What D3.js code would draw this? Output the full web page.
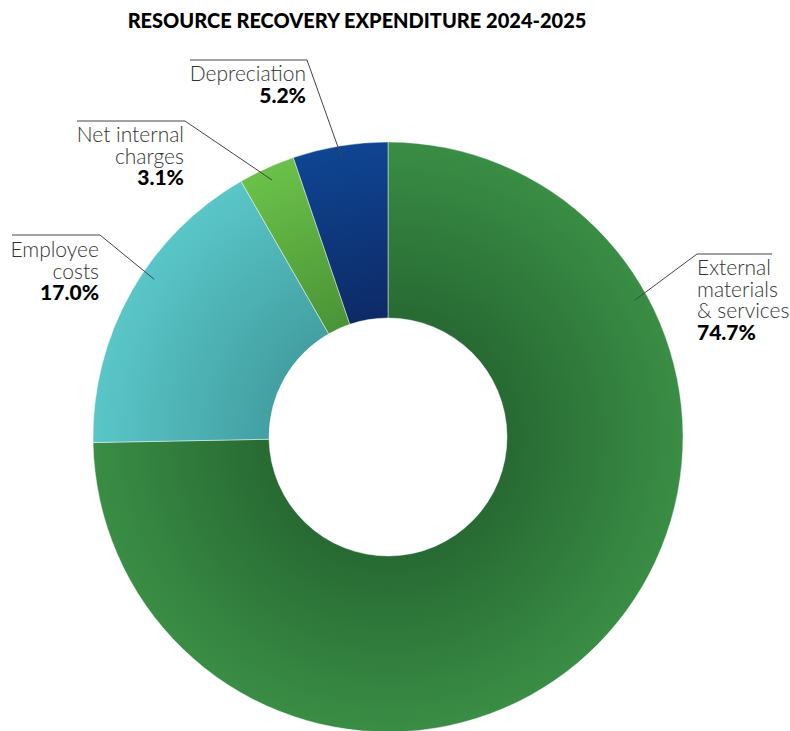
<!DOCTYPE html>
<html>
<head>
<meta charset="utf-8">
<script src="https://cdn.jsdelivr.net/npm/d3@7"></script>
<style>
  html, body { margin: 0; padding: 0; background: #fff; }
  svg { display: block; }
  text { font-family: Lato, "Open Sans", sans-serif; }
</style>
</head>
<body>
<svg id="chart" width="790" height="731"></svg>
<script>
// Expenditure shares, in drawing order (clockwise from 12 o'clock)
const categories = ["External materials & services", "Employee costs", "Net internal charges", "Depreciation"];
const shares = [74.7, 17.0, 3.1, 5.2];
const labelLines = [
  ["External", "materials", "& services"],
  ["Employee", "costs"],
  ["Net internal", "charges"],
  ["Depreciation"]
];

// Slice colours: [inner edge, outer edge]
const palette = [
  ["#276a33", "#3a8d45"],
  ["#43a0a2", "#5ac6c8"],
  ["#4a9436", "#6bc149"],
  ["#0d2a66", "#0f4592"]
];

// Callout layout: anchor angle on the ring (degrees, null = slice middle),
// elbow point, label side and the far end of the rule above the text
const callouts = [
  { angle: 61, elbow: [697, 254], ruleEnd: 772, side: "left", y0: 275 },
  { angle: 304, elbow: [100, 235], ruleEnd: 12, side: "right", y0: 257 },
  { angle: null, elbow: [185, 121], ruleEnd: 77, side: "right", y0: 142 },
  { angle: null, elbow: [307, 60], ruleEnd: 190, side: "right", y0: 81 }
];

const svg = d3.select("#chart");
const cx = 388, cy = 437;
const rOuter = 295, rInner = 119, rAnchor = 282;
const lineH = 21.7;

svg.append("text")
  .attr("x", 357).attr("y", 28)
  .attr("text-anchor", "middle")
  .style("font-weight", 900)
  .style("font-size", "20px")
  .attr("fill", "#000")
  .text("RESOURCE RECOVERY EXPENDITURE 2024-2025");

// Radial shading per slice, darker toward the hole (coordinates relative to the ring centre)
const defs = svg.append("defs");
palette.forEach((c, i) => {
  const gr = defs.append("radialGradient")
    .attr("id", "grad" + i)
    .attr("gradientUnits", "userSpaceOnUse")
    .attr("cx", 0).attr("cy", 0).attr("r", rOuter);
  gr.append("stop").attr("offset", rInner / rOuter).attr("stop-color", c[0]);
  gr.append("stop").attr("offset", 1).attr("stop-color", c[1]);
});

const pie = d3.pie().sort(null).value(d => d);
const arcs = pie(shares);
const arc = d3.arc().innerRadius(rInner).outerRadius(rOuter);

const g = svg.append("g").attr("transform", `translate(${cx},${cy})`);
g.selectAll("path.slice")
  .data(arcs)
  .join("path")
  .attr("class", "slice")
  .attr("d", arc)
  .attr("fill", (d, i) => `url(#grad${i})`)
  .attr("stroke", "rgba(255,255,255,0.45)")
  .attr("stroke-width", 1);

// Callouts
arcs.forEach((a, i) => {
  const co = callouts[i];
  const ang = co.angle != null ? co.angle * Math.PI / 180 : (a.startAngle + a.endAngle) / 2;
  const ax = cx + rAnchor * Math.sin(ang);
  const ay = cy - rAnchor * Math.cos(ang);
  svg.append("path")
    .attr("d", `M${ax},${ay}L${co.elbow[0]},${co.elbow[1]}L${co.ruleEnd},${co.elbow[1]}`)
    .attr("fill", "none")
    .attr("stroke", "#444")
    .attr("stroke-width", 1);

  const tx = co.side === "left" ? co.elbow[0] : co.elbow[0] - 1;
  const anchor = co.side === "left" ? "start" : "end";
  const t = svg.append("text")
    .attr("x", tx)
    .attr("text-anchor", anchor)
    .style("font-size", "21px");
  labelLines[i].forEach((ln, j) => {
    t.append("tspan")
      .attr("x", tx)
      .attr("y", co.y0 + j * lineH)
      .style("font-weight", 300)
      .attr("fill", "#333")
      .text(ln);
  });
  t.append("tspan")
    .attr("x", tx)
    .attr("y", co.y0 + labelLines[i].length * lineH)
    .style("font-weight", 900)
    .attr("fill", "#000")
    .text(shares[i].toFixed(1) + "%");
});
</script>
</body>
</html>
